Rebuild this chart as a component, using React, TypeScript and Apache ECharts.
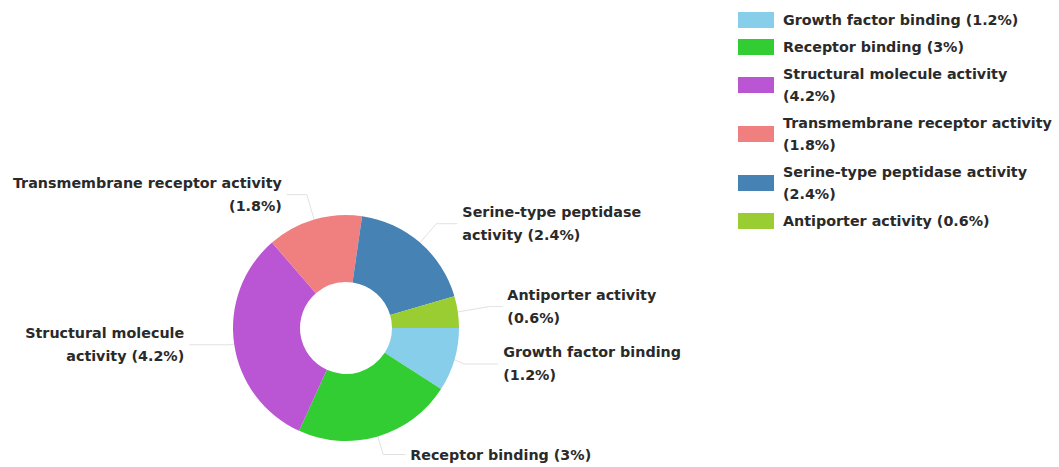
import React, { useEffect, useRef } from "react";
import * as echarts from "echarts";

const categories = [
  "Growth factor binding",
  "Receptor binding",
  "Structural molecule activity",
  "Transmembrane receptor activity",
  "Serine-type peptidase activity",
  "Antiporter activity",
];
const values = [1.2, 3, 4.2, 1.8, 2.4, 0.6];
const colors = ["#87ceeb", "#32cd32", "#ba55d3", "#f08080", "#4682b4", "#9acd32"];

// manual line breaks for the slice labels and the legend
const labelTexts = [
  "Growth factor binding\n(1.2%)",
  "Receptor binding (3%)",
  "Structural molecule\nactivity (4.2%)",
  "Transmembrane receptor activity\n(1.8%)",
  "Serine-type peptidase\nactivity (2.4%)",
  "Antiporter activity\n(0.6%)",
];
const legendTexts = [
  "Growth factor binding (1.2%)",
  "Receptor binding (3%)",
  "Structural molecule activity\n(4.2%)",
  "Transmembrane receptor activity\n(1.8%)",
  "Serine-type peptidase activity\n(2.4%)",
  "Antiporter activity (0.6%)",
];
// label line styling per slice: [length, length2]
const lineLens = [
  [15, 34],
  [19, 22],
  [5, 40],
  [26, 20],
  [25, 21],
  [37, 13],
];

const FONT = "'DejaVu Sans', sans-serif";

export default function App() {
  const ref = useRef<HTMLDivElement>(null);
  useEffect(() => {
    if (!ref.current) return;
    const chart = echarts.init(ref.current, null, { renderer: "svg" });
    chart.setOption({
      animation: false,
      color: colors,
      legend: {
        orient: "vertical",
        left: 738,
        top: 9,
        padding: 0,
        itemWidth: 36,
        itemHeight: 16,
        itemGap: 5,
        icon: "rect",
        formatter: (name: string) => legendTexts[categories.indexOf(name)],
        textStyle: {
          fontFamily: FONT,
          fontSize: 14.3,
          fontWeight: "bold",
          color: "#2a2a2a",
          lineHeight: 22,
          padding: [0, 0, 0, 4],
        },
      },
      series: [
        {
          type: "pie",
          center: [346, 328],
          radius: [46, 113],
          startAngle: 0,
          clockwise: true,
          avoidLabelOverlap: true,
          label: {
            show: true,
            position: "outside",
            fontFamily: FONT,
            fontSize: 14.3,
            fontWeight: "bold",
            color: "#2a2a2a",
            lineHeight: 23,
            formatter: (p: any) => labelTexts[p.dataIndex],
          },
          labelLine: {
            show: true,
            lineStyle: { color: "#e2e2e2", width: 1 },
          },
          data: categories.map((name, i) => ({
            name,
            value: values[i],
            labelLine: { length: lineLens[i][0], length2: lineLens[i][1] },
          })),
        },
      ],
    });
    return () => chart.dispose();
  }, []);
  return (
    <div
      ref={ref}
      style={{ position: "fixed", left: 0, top: 0, width: 1059, height: 467, background: "#fff" }}
    />
  );
}
